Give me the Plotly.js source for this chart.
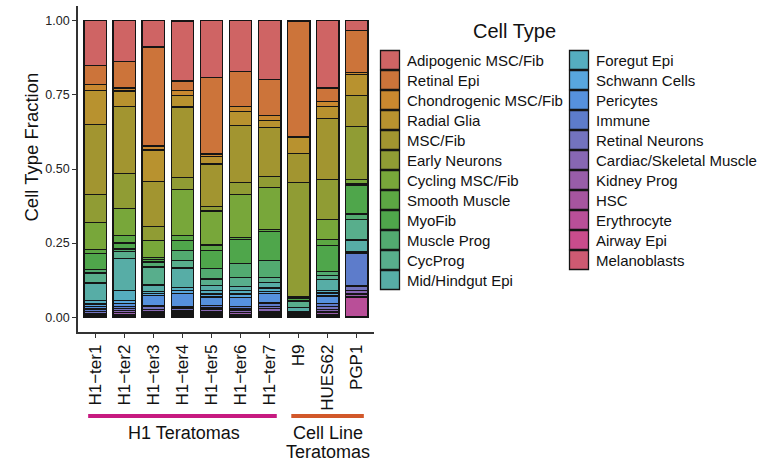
<!DOCTYPE html>
<html>
<head>
<meta charset="utf-8">
<script src="https://cdn.plot.ly/plotly-3.0.1.min.js"></script>
<style>html,body{margin:0;padding:0;background:#fff;}#chart{width:761px;height:461px;}</style>
</head>
<body>
<div id="chart"></div>
<script>
// Samples (x categories)
const samples = ["H1\u2212ter1","H1\u2212ter2","H1\u2212ter3","H1\u2212ter4","H1\u2212ter5","H1\u2212ter6","H1\u2212ter7","H9","HUES62","PGP1"];

// Cell types (legend order, top of stack first)
const cellTypes = ["Adipogenic MSC/Fib","Retinal Epi","Chondrogenic MSC/Fib","Radial Glia","MSC/Fib","Early Neurons","Cycling MSC/Fib","Smooth Muscle","MyoFib","Muscle Prog","CycProg","Mid/Hindgut Epi","Foregut Epi","Schwann Cells","Pericytes","Immune","Retinal Neurons","Cardiac/Skeletal Muscle","Kidney Prog","HSC","Erythrocyte","Airway Epi","Melanoblasts"];

const cellColors = ["#CF6464","#CC743A","#C9882F","#B8922F","#A29530","#909C34","#78A73A","#5CA743","#4FA64B","#52AA70","#58AE8C","#57ADA6","#55ADBF","#58A6DE","#5691DD","#5D7CCB","#7373BE","#8767B3","#985DA8","#A6559F","#B94F98","#C94C8C","#CE5A72"];

// Fractions per sample, in cellTypes order
const H1_ter1 = [0.150,0.064,0.020,0.115,0.238,0.094,0.090,0.013,0.056,0.011,0.034,0.059,0.011,0.008,0.009,0.008,0.0065,0.004,0.003,0.002,0.002,0.001,0.0015];
const H1_ter2 = [0.137,0.090,0.010,0.052,0.226,0.119,0.090,0.026,0.020,0.008,0.023,0.109,0.034,0.009,0.012,0.006,0.006,0.007,0.006,0.003,0.003,0.002,0.002];
const H1_ter3 = [0.088,0.334,0.014,0.105,0.153,0.048,0.056,0.007,0.009,0.017,0.060,0.022,0.007,0.007,0.033,0.004,0.010,0.009,0.005,0.004,0.003,0.002,0.003];
const H1_ter4 = [0.202,0.033,0.015,0.040,0.238,0.040,0.155,0.017,0.034,0.034,0.025,0.065,0.011,0.011,0.045,0.005,0.006,0.006,0.004,0.004,0.004,0.002,0.003];
const H1_ter5 = [0.191,0.258,0.008,0.026,0.143,0.016,0.114,0.019,0.060,0.036,0.022,0.017,0.012,0.010,0.029,0.008,0.006,0.008,0.005,0.004,0.003,0.002,0.003];
const H1_ter6 = [0.170,0.119,0.018,0.046,0.193,0.040,0.144,0.008,0.082,0.045,0.031,0.014,0.012,0.012,0.030,0.006,0.006,0.009,0.005,0.004,0.002,0.002,0.002];
const H1_ter7 = [0.198,0.121,0.017,0.024,0.165,0.037,0.141,0.009,0.096,0.059,0.015,0.020,0.011,0.008,0.031,0.011,0.007,0.010,0.006,0.004,0.003,0.003,0.004];
const H9      = [0.001,0.390,0.002,0.054,0.099,0.385,0.004,0.003,0.005,0.005,0.020,0.013,0.003,0.002,0.002,0.002,0.003,0.002,0.002,0.001,0.001,0.0005,0.0005];
const HUES62  = [0.227,0.046,0.016,0.040,0.206,0.135,0.068,0.019,0.090,0.013,0.013,0.036,0.009,0.011,0.025,0.009,0.010,0.009,0.008,0.004,0.003,0.001,0.002];
const PGP1    = [0.033,0.142,0.007,0.071,0.104,0.178,0.013,0.006,0.098,0.018,0.070,0.039,0.003,0.002,0.001,0.110,0.014,0.013,0.008,0.004,0.064,0.001,0.001];

const sampleValues = [H1_ter1,H1_ter2,H1_ter3,H1_ter4,H1_ter5,H1_ter6,H1_ter7,H9,HUES62,PGP1];

// Text labels
const groupNames = ["H1 Teratomas", "Cell Line", "Teratomas"];
const yTitle = "Cell Type Fraction";
const legendTitle = "Cell Type";

const FONT = "Liberation Sans, Arial, Helvetica, sans-serif";

const L = 78, T = 6, W = 296, H = 326;
const px2x = p => (p - L) / W;
const py2y = p => (T + H - p) / H;

// one legend box per entry, laid out in two columns (12 + 11)
const legendKey = j => (j === 0 ? "legend" : "legend" + (j + 1));

// Build traces: bottom of stack first (last cell type first)
const traces = [];
for (let j = cellTypes.length - 1; j >= 0; j--) {
  traces.push({
    type: "bar",
    name: cellTypes[j],
    x: samples,
    y: sampleValues.map(v => v[j]),
    marker: {color: cellColors[j], line: {color: "#151515", width: 1.3}},
    legend: legendKey(j),
    hoverinfo: "name+y"
  });
}

const layout = {
  width: 761,
  height: 461,
  margin: {l: L, r: 761 - L - W, t: T, b: 461 - T - H, pad: 0, autoexpand: false},
  paper_bgcolor: "#fff",
  plot_bgcolor: "#fff",
  barmode: "stack",
  bargap: 0.22,
  font: {family: FONT, color: "#111"},
  showlegend: true,
  xaxis: {
    type: "category",
    range: [-0.6, 9.6],
    automargin: false,
    showline: true, linecolor: "#333", linewidth: 1.6,
    ticks: "outside", ticklen: 4, tickwidth: 1.2, tickcolor: "#333",
    tickangle: -90,
    tickfont: {family: FONT, size: 17, color: "#111"},
    showgrid: false, zeroline: false, fixedrange: true
  },
  yaxis: {
    range: [-0.05, 1.05],
    automargin: false,
    tickvals: [0, 0.25, 0.5, 0.75, 1],
    tickformat: ".2f",
    showline: true, linecolor: "#333", linewidth: 1.6,
    ticks: "outside", ticklen: 4, tickwidth: 1.2, tickcolor: "#333",
    tickfont: {family: FONT, size: 12.5, color: "#222"},
    showgrid: false, zeroline: false, fixedrange: true
  },
  shapes: [
    {type: "line", xref: "x", yref: "paper", x0: -0.25, x1: 6.25, y0: py2y(416), y1: py2y(416),
     line: {color: "#C71A80", width: 4}},
    {type: "line", xref: "x", yref: "paper", x0: 6.75, x1: 9.25, y0: py2y(416), y1: py2y(416),
     line: {color: "#D2582A", width: 4}}
  ],
  annotations: [
    {text: yTitle, xref: "paper", yref: "paper", x: px2x(31), y: py2y(147.5), textangle: -90,
     xanchor: "center", yanchor: "middle", showarrow: false,
     font: {family: FONT, size: 18.5, color: "#111"}},
    {text: legendTitle, xref: "paper", yref: "paper", x: px2x(514), y: py2y(31),
     xanchor: "center", yanchor: "middle", showarrow: false,
     font: {family: FONT, size: 20, color: "#111"}},
    {text: groupNames[0], xref: "x", yref: "paper", x: 3.05, y: py2y(433),
     xanchor: "center", yanchor: "middle", showarrow: false,
     font: {family: FONT, size: 18, color: "#111"}},
    {text: groupNames[1], xref: "x", yref: "paper", x: 8, y: py2y(433),
     xanchor: "center", yanchor: "middle", showarrow: false,
     font: {family: FONT, size: 18, color: "#111"}},
    {text: groupNames[2], xref: "x", yref: "paper", x: 8, y: py2y(452),
     xanchor: "center", yanchor: "middle", showarrow: false,
     font: {family: FONT, size: 18, color: "#111"}}
  ]
};

// legend boxes
const LEG_FONT = 15;
const topOffset = (LEG_FONT * 1.3 + 3) / 2 + 5;
cellTypes.forEach((name, j) => {
  const col = j < 12 ? 0 : 1;
  const row = col ? j - 12 : j;
  layout[legendKey(j)] = {
    orientation: "v",
    font: {family: FONT, size: LEG_FONT, color: "#111"},
    bgcolor: "rgba(0,0,0,0)",
    xanchor: "left",
    yanchor: "top",
    x: px2x(col ? 556 : 367),
    y: py2y(60 + 20 * row - topOffset),
    itemclick: false,
    itemdoubleclick: false
  };
});

Plotly.newPlot("chart", traces, layout, {displayModeBar: false, responsive: false}).then(gd => {
  // larger square legend keys, as in the reference
  gd.querySelectorAll(".legendpoints path").forEach(p => {
    p.setAttribute("d", "M12.5,9.5H-6.5V-9.5H12.5Z");
  });
});
</script>
</body>
</html>
